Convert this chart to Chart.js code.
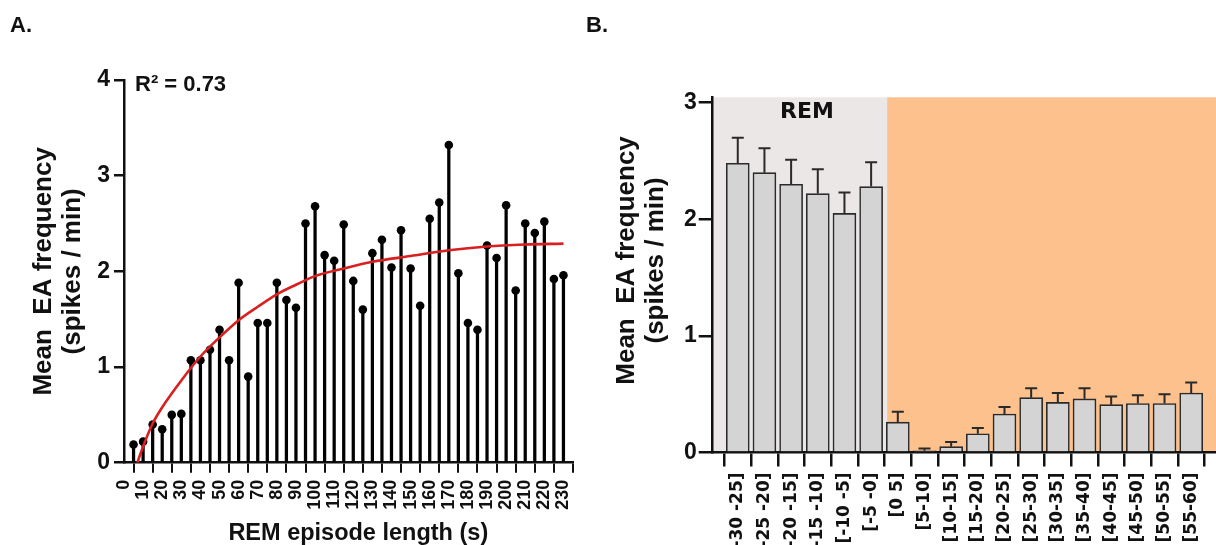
<!DOCTYPE html>
<html><head><meta charset="utf-8">
<script src="https://cdn.jsdelivr.net/npm/chart.js@4.4.1/dist/chart.umd.min.js"></script>
<style>
html,body{margin:0;padding:0;background:#fff;width:1216px;height:545px;overflow:hidden;}
#wrapA{position:absolute;left:0;top:0;width:580px;height:545px;}
#wrapB{position:absolute;left:580px;top:0;width:636px;height:545px;}
.lbl{position:absolute;font-family:"Liberation Sans",Arial,sans-serif;font-weight:bold;color:#111;white-space:nowrap;line-height:1;}
</style></head><body>
<div id="wrapA"><canvas id="cA"></canvas></div>
<div id="wrapB"><canvas id="cB"></canvas></div>
<div class="lbl" style="left:10px;top:14px;font-size:22px">A.</div>
<div class="lbl" style="left:586px;top:14px;font-size:22px">B.</div>
<div class="lbl" style="left:135px;top:73px;font-size:22px">R² = 0.73</div>
<div class="lbl" style="left:780px;top:100px;font-size:22px;font-family:'DejaVu Sans',sans-serif">REM</div>
<script>
// ---- Panel A data ----
const episodeLength = [5,10,15,20,25,30,35,40,45,50,55,60,65,70,75,80,85,90,95,100,105,110,115,120,125,130,135,140,145,150,155,160,165,170,175,180,185,190,195,200,205,210,215,220,225,230];
const meanEAFreq = [0.19,0.22,0.40,0.35,0.50,0.51,1.07,1.07,1.18,1.39,1.07,1.88,0.90,1.46,1.46,1.88,1.70,1.62,2.50,2.68,2.17,2.11,2.49,1.90,1.60,2.19,2.33,2.04,2.43,2.03,1.64,2.55,2.72,3.32,1.98,1.46,1.39,2.27,2.14,2.69,1.80,2.50,2.40,2.52,1.92,1.96];
const fitX = [7,10,15,20,30,40,50,60,70,80,90,100,115,130,150,170,190,210,230];
const fitY = [0,0.17,0.41,0.58,0.86,1.11,1.31,1.49,1.63,1.76,1.86,1.95,2.03,2.10,2.16,2.22,2.26,2.28,2.29];
const xTicksA = [0,10,20,30,40,50,60,70,80,90,100,110,120,130,140,150,160,170,180,190,200,210,220,230];
const yTicksA = [0,1,2,3,4];

// ---- Panel B data ----
const binLabels = ["[-30 -25]","[-25 -20]","[-20 -15]","[-15 -10]","[-10 -5]","[-5 -0]","[0 5]","[5-10]","[10-15]","[15-20]","[20-25]","[25-30]","[30-35]","[35-40]","[40-45]","[45-50]","[50-55]","[55-60]"];
const binMeanEA = [2.48,2.40,2.30,2.22,2.05,2.28,0.26,0.015,0.05,0.16,0.33,0.47,0.43,0.46,0.41,0.42,0.42,0.51];
const binSemEA = [0.22,0.21,0.21,0.21,0.18,0.21,0.09,0.02,0.04,0.05,0.06,0.08,0.08,0.09,0.07,0.07,0.08,0.09];
const yTicksB = [0,1,2,3];
const remEndIndex = 5.6;

const ARIAL = '"Liberation Sans", Arial, sans-serif';
const INK = '#111';
const noSidePad = (s)=>{ s.paddingLeft = 0; s.paddingRight = 0; };

// ---------- Chart A ----------
new Chart(document.getElementById('cA'), {
  data: {
    datasets: [
      { type:'line', data: fitX.map((x,i)=>({x:x, y:fitY[i]})), borderColor:'#d91f1f', borderWidth:2.6,
        pointRadius:0, cubicInterpolationMode:'monotone', fill:false, order:0 },
      { type:'scatter', data: episodeLength.map((x,i)=>({x:x, y:meanEAFreq[i]})), pointRadius:4.3,
        pointBackgroundColor:'#000', pointBorderWidth:0, order:1 },
      { type:'bar', data: episodeLength.map((x,i)=>({x:x, y:meanEAFreq[i]})), backgroundColor:'#000',
        barThickness:2.6, borderWidth:0, order:2 }
    ]
  },
  options: {
    responsive:true, maintainAspectRatio:false, animation:false,
    layout:{ padding:{ top:80, right:7, left:0, bottom:0 } },
    plugins:{ legend:{display:false}, tooltip:{enabled:false} },
    scales:{
      x:{ type:'linear', min:0, max:235, offset:false,
        afterBuildTicks:(s)=>{ s.ticks = xTicksA.map(v=>({value:v})); },
        afterFit:(s)=>{ s.height = 82.3; noSidePad(s); },
        ticks:{ autoSkip:false, minRotation:90, maxRotation:90, padding:7, color:INK,
          font:{ family:ARIAL, weight:'bold', size:18 } },
        grid:{ drawOnChartArea:false, drawTicks:true, tickLength:10, color:INK, lineWidth:2 },
        border:{ color:INK, width:2.5 },
        title:{ display:true, text:'   REM episode length (s)', color:INK, padding:{top:0,bottom:0},
          font:{ family:ARIAL, weight:'bold', size:23.5, lineHeight:1.0 } }
      },
      y:{ min:0, max:4,
        afterBuildTicks:(s)=>{ s.ticks = yTicksA.map(v=>({value:v})); },
        afterFit:(s)=>{ s.width = 124; },
        ticks:{ padding:4, color:INK, font:{ family:ARIAL, weight:'bold', size:23 } },
        grid:{ drawOnChartArea:false, drawTicks:true, tickLength:10, color:INK, lineWidth:2.5 },
        border:{ color:INK, width:2.5 },
        title:{ display:true, text:['Mean  EA frequency','(spikes / min)'], color:INK, padding:{top:29.5,bottom:0},
          font:{ family:ARIAL, weight:'bold', size:26, lineHeight:1.115 } }
      }
    }
  }
});

// ---------- Chart B ----------
const bgPlugin = {
  id:'remBg',
  beforeDraw(chart){
    const {ctx, chartArea:a, scales:{x, y}} = chart;
    const xb = x.getPixelForValue(remEndIndex);
    const yb = y.getPixelForValue(0);
    ctx.save();
    ctx.fillStyle = '#ebe7e6';
    ctx.fillRect(a.left, a.top, xb - a.left, yb - a.top);
    ctx.fillStyle = '#fdc18d';
    ctx.fillRect(xb, a.top, a.right - xb, yb - a.top);
    ctx.restore();
  }
};
const errPlugin = {
  id:'errBars',
  afterDatasetsDraw(chart){
    const {ctx, scales:{y}} = chart;
    const meta = chart.getDatasetMeta(0);
    ctx.save();
    ctx.strokeStyle = '#2a2a2a';
    ctx.lineWidth = 2;
    meta.data.forEach((bar, i) => {
      const yTop = y.getPixelForValue(binMeanEA[i] + binSemEA[i]);
      ctx.beginPath();
      ctx.moveTo(bar.x, bar.y);
      ctx.lineTo(bar.x, yTop);
      ctx.moveTo(bar.x - 6, yTop);
      ctx.lineTo(bar.x + 6, yTop);
      ctx.stroke();
    });
    ctx.restore();
  }
};
new Chart(document.getElementById('cB'), {
  type:'bar',
  data: {
    datasets: [
      { data: binMeanEA.map((v,i)=>({x:i, y:v})), backgroundColor:'#d4d4d4', borderColor:'#2a2a2a',
        borderWidth:1.6, barThickness:23 }
    ]
  },
  plugins:[bgPlugin, errPlugin],
  options: {
    responsive:true, maintainAspectRatio:false, animation:false,
    layout:{ padding:{ top:97.3, right:0, left:0, bottom:0 } },
    plugins:{ legend:{display:false}, tooltip:{enabled:false} },
    scales:{
      x:{ type:'linear', min:-0.94, max:17.93, offset:false,
        afterBuildTicks:(s)=>{ s.ticks = binLabels.map((_,i)=>({value:i})); },
        afterFit:(s)=>{ s.height = 92.5; noSidePad(s); },
        ticks:{ autoSkip:false, minRotation:90, maxRotation:90, padding:6, color:INK,
          callback:(v)=>binLabels[v],
          font:{ family:'"DejaVu Sans", sans-serif', weight:'bold', size:17 } },
        grid:{ drawOnChartArea:false, drawTicks:true, tickLength:14, color:INK, lineWidth:2.5 },
        border:{ color:INK, width:2.5 }
      },
      y:{ min:0, max:3.046,
        afterBuildTicks:(s)=>{ s.ticks = yTicksB.map(v=>({value:v})); },
        afterFit:(s)=>{ s.width = 132.7; },
        ticks:{ padding:2, color:INK, font:{ family:ARIAL, weight:'bold', size:23 } },
        grid:{ drawOnChartArea:false, drawTicks:true, tickLength:14, color:INK, lineWidth:2.5 },
        border:{ color:INK, width:2.5 },
        title:{ display:true, text:['    Mean  EA frequency','    (spikes / min)'], color:INK, padding:{top:32.5,bottom:0},
          font:{ family:ARIAL, weight:'bold', size:26, lineHeight:1.115 } }
      }
    }
  }
});
</script>
</body></html>
